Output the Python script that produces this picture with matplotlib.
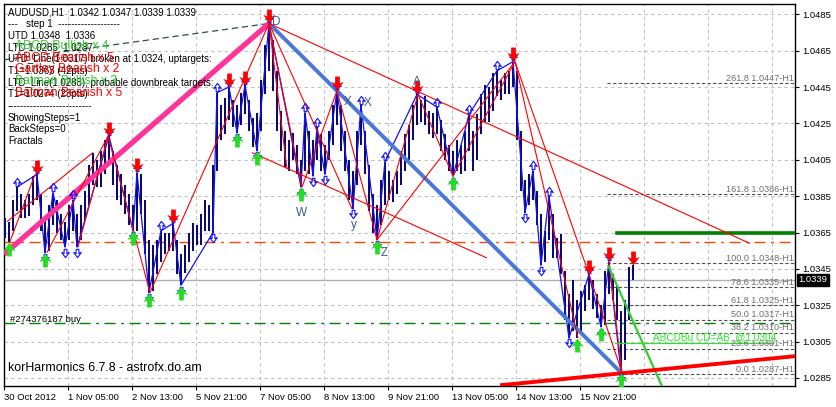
import matplotlib
matplotlib.use("Agg")
import matplotlib.pyplot as plt
from matplotlib.transforms import blended_transform_factory

plt.rcParams['font.family'] = ['Liberation Sans', 'DejaVu Sans']

highs = [1.0373, 1.0371, 1.0383, 1.0390, 1.0386, 1.0383, 1.0386, 1.0396, 1.0397, 1.0386,
         1.0372, 1.0380, 1.0387, 1.0383, 1.0375, 1.0371, 1.0380, 1.0383, 1.0375, 1.0380,
         1.0388, 1.0402, 1.0409, 1.0405, 1.0410, 1.0416, 1.0418, 1.0410, 1.0402, 1.0397,
         1.0391, 1.0386, 1.0380, 1.0398, 1.0397, 1.0383, 1.0361, 1.0358, 1.0361, 1.0366,
         1.0365, 1.0365, 1.0370, 1.0361, 1.0353, 1.0358, 1.0365, 1.0370, 1.0369, 1.0375,
         1.0383, 1.0380, 1.0402, 1.0442, 1.0435, 1.0439, 1.0445, 1.0438, 1.0435, 1.0442,
         1.0446, 1.0438, 1.0428, 1.0431, 1.0449, 1.0468, 1.0480, 1.0471, 1.0454, 1.0432,
         1.0421, 1.0416, 1.0420, 1.0413, 1.0405, 1.0431, 1.0421, 1.0416, 1.0423, 1.0419,
         1.0413, 1.0421, 1.0435, 1.0443, 1.0435, 1.0421, 1.0405, 1.0399, 1.0421, 1.0435,
         1.0421, 1.0402, 1.0386, 1.0380, 1.0394, 1.0404, 1.0399, 1.0394, 1.0399, 1.0410,
         1.0419, 1.0424, 1.0435, 1.0441, 1.0438, 1.0440, 1.0432, 1.0431, 1.0434, 1.0427,
         1.0419, 1.0413, 1.0410, 1.0416, 1.0413, 1.0421, 1.0430, 1.0421, 1.0430, 1.0441,
         1.0446, 1.0445, 1.0453, 1.0454, 1.0449, 1.0453, 1.0454, 1.0459, 1.0454, 1.0421,
         1.0394, 1.0397, 1.0399, 1.0388, 1.0375, 1.0366, 1.0385, 1.0375, 1.0362, 1.0364,
         1.0344, 1.0331, 1.0339, 1.0328, 1.0333, 1.0336, 1.0342, 1.0339, 1.0331, 1.0325,
         1.0344, 1.0349, 1.0342, 1.0336, 1.0322, 1.0328, 1.0346, 1.0347]
lows = [1.0362, 1.0360, 1.0366, 1.0377, 1.0373, 1.0373, 1.0374, 1.0380, 1.0383, 1.0366,
        1.0354, 1.0355, 1.0369, 1.0365, 1.0361, 1.0357, 1.0361, 1.0366, 1.0357, 1.0361,
        1.0372, 1.0380, 1.0391, 1.0390, 1.0390, 1.0397, 1.0402, 1.0391, 1.0383, 1.0380,
        1.0375, 1.0369, 1.0366, 1.0366, 1.0375, 1.0353, 1.0332, 1.0333, 1.0342, 1.0349,
        1.0353, 1.0355, 1.0355, 1.0342, 1.0336, 1.0343, 1.0349, 1.0355, 1.0358, 1.0358,
        1.0366, 1.0366, 1.0365, 1.0399, 1.0416, 1.0419, 1.0427, 1.0423, 1.0420, 1.0424,
        1.0430, 1.0421, 1.0412, 1.0410, 1.0421, 1.0441, 1.0454, 1.0443, 1.0421, 1.0410,
        1.0401, 1.0399, 1.0405, 1.0397, 1.0390, 1.0399, 1.0397, 1.0396, 1.0405, 1.0399,
        1.0397, 1.0405, 1.0413, 1.0424, 1.0410, 1.0399, 1.0383, 1.0378, 1.0391, 1.0413,
        1.0397, 1.0377, 1.0365, 1.0361, 1.0369, 1.0380, 1.0383, 1.0382, 1.0386, 1.0391,
        1.0399, 1.0405, 1.0416, 1.0424, 1.0426, 1.0424, 1.0419, 1.0417, 1.0419, 1.0410,
        1.0405, 1.0399, 1.0396, 1.0399, 1.0397, 1.0399, 1.0410, 1.0399, 1.0405, 1.0419,
        1.0426, 1.0426, 1.0432, 1.0440, 1.0438, 1.0441, 1.0441, 1.0445, 1.0416, 1.0388,
        1.0376, 1.0380, 1.0383, 1.0369, 1.0347, 1.0349, 1.0361, 1.0351, 1.0351, 1.0342,
        1.0317, 1.0307, 1.0311, 1.0307, 1.0311, 1.0322, 1.0328, 1.0323, 1.0318, 1.0313,
        1.0314, 1.0331, 1.0328, 1.0317, 1.0288, 1.0295, 1.0317, 1.0339]

price_ticks = [1.0285, 1.0305, 1.0325, 1.0345, 1.0365, 1.0385, 1.0405, 1.0425, 1.0445, 1.0465, 1.0485]
time_pos = [15.75, 31.75, 47.75, 63.75, 79.75, 95.75, 111.75, 127.75, 143.75]
time_labels = ["1 Nov 05:00", "2 Nov 13:00", "5 Nov 21:00", "7 Nov 05:00", "8 Nov 13:00",
               "9 Nov 21:00", "13 Nov 05:00", "14 Nov 13:00", "15 Nov 21:00"]
grid_x = time_pos + [159.75, 175.75, 191.75]

# big fractals (bar index)
up_fractals = [8, 26, 33, 42, 56, 60, 66, 83, 103, 127, 146, 151, 157]
down_fractals = [1, 10, 32, 36, 44, 58, 63, 74, 93, 112, 143, 149, 154]

# harmonic / trend lines: (bar, price) pairs
pink_line = [(-0.25, 1.0353), (66, 1.0480)]
slate_line = [(-0.25, 1.0460), (66, 1.0480)]
blue_line = [(66, 1.0480), (154, 1.0288)]
red_lines = [
    [(66, 1.0480), (186.25, 1.0359)],
    [(61.75, 1.0409), (120.5, 1.0351)],
    [(36.25, 1.0332), (66, 1.0480)],
    [(1.25, 1.0360), (7.5, 1.0397)],
    [(10.5, 1.0354), (25.75, 1.0418)],
    [(18.25, 1.0357), (25.75, 1.0418)],
    [(0.5, 1.0371), (22, 1.0409)],
    [(25.75, 1.0418), (36.25, 1.0332)],
    [(66, 1.0480), (70.5, 1.0400)],
    [(66, 1.0480), (74.25, 1.0390)],
    [(66, 1.0480), (86.75, 1.0378)],
    [(74.25, 1.0390), (83, 1.0443)],
    [(83, 1.0443), (93, 1.0361)],
    [(93, 1.0361), (103.25, 1.0441)],
    [(93, 1.0361), (127.5, 1.0459)],
    [(103.25, 1.0441), (112, 1.0396)],
    [(112, 1.0396), (127.5, 1.0459)],
    [(127.5, 1.0459), (143.25, 1.0307)],
    [(127.5, 1.0459), (146, 1.0342)],
    [(146, 1.0342), (154.25, 1.0288)],
    [(151, 1.0349), (154.25, 1.0288)],
]
abcd_line = [(150.75, 1.0347), (164.75, 1.0278)]
ltd_line = [(123.75, 1.0281), (197.5, 1.0297)]

fib_pct = [0.0, 23.6, 38.2, 50.0, 61.8, 78.6, 100.0, 161.8, 261.8]
fib_price = [1.0287, 1.0301, 1.0310, 1.0317, 1.0325, 1.0335, 1.0348, 1.0386, 1.0447]

letters = [("D", 67.75, 1.0481), ("A", 103, 1.0448), ("X", 85.75, 1.0437), ("X", 90.75, 1.0436),
           ("W", 74.25, 1.0376), ("y", 87.25, 1.0369), ("Z", 94.75, 1.0354)]

info_lines = ["AUDUSD,H1  1.0342 1.0347 1.0339 1.0339", "---   step 1  -------------------",
              "UTD 1.0348  1.0336", "LTD 1.0285  1.0287",
              "UTD_Line(1.0317) broken at 1.0324, uptargets:", "T1=1.0363 (42pts)",
              "LTD_Line(1.0288), probable downbreak targets:", "T1=1.0274 (23pts)",
              "--------------------------", "ShowingSteps=1", "BackSteps=0", "Fractals"]
pattern_lines = [("ABCD Bullish x 4", "#33cc33"), ("ABCD Bearish x 5", "red"),
                 ("Gartley Bearish x 2", "red"), ("Batman Bullish x 3", "#33cc33"),
                 ("Batman Bearish x 5", "red")]

W, H = 837, 407
fig = plt.figure(figsize=(W / 100, H / 100), dpi=100)
ax = fig.add_axes([4 / W, 21 / H, 791 / W, 382 / H])
ax.set_xlim(-0.25, 197.5)
ax.set_ylim(1.02806, 1.04907)

for gx in grid_x:
    ax.axvline(gx, color="#c0c0c0", lw=0.8, ls=(0, (3, 3)), zorder=0)
for gy in price_ticks:
    ax.axhline(gy, color="#c0c0c0", lw=0.8, ls=(0, (3, 3)), zorder=0)

xs = list(range(len(highs)))
ax.vlines(xs, lows, highs, color="#0a0a70", lw=1.45, zorder=3)

# small fractals from the bars
fh, fl = [], []
for i in range(2, len(highs) - 2):
    if highs[i] == max(highs[i - 2:i + 3]) and highs[i] > max(highs[i - 2:i]):
        fh.append(i)
    if lows[i] == min(lows[i - 2:i + 3]) and lows[i] < min(lows[i - 2:i]):
        fl.append(i)
zz = sorted([(i, highs[i]) for i in fh] + [(i, lows[i]) for i in fl])
ax.plot([p[0] for p in zz], [p[1] for p in zz], color="#1010ff", lw=0.9, zorder=4)

arrow_dn = [(-0.17, 0.5), (0.17, 0.5), (0.17, 0.0), (0.45, 0.12), (0.0, -0.5),
            (-0.45, 0.12), (-0.17, 0.0), (-0.17, 0.5)]
arrow_up = [(x, -y) for x, y in arrow_dn]
ax.plot(fh, [highs[i] + 0.0003 for i in fh], ls="none", marker=arrow_up, ms=6,
        mfc="none", mec="#1010ff", mew=0.8, zorder=6)
ax.plot(fl, [lows[i] - 0.0003 for i in fl], ls="none", marker=arrow_dn, ms=6,
        mfc="none", mec="#1010ff", mew=0.8, zorder=6)

# horizontal lines
ax.axhline(1.0360, color="#ff4500", lw=1, ls=(0, (8, 4, 2, 4)), zorder=2)
ax.axhline(1.0315, color="#008000", lw=1, ls=(0, (8, 4, 2, 4)), zorder=2)
ax.axhline(1.0339, color="#b0b0b0", lw=1, zorder=1)
ax.plot([153, 197.5], [1.0365, 1.0365], color="#008000", lw=2.6, zorder=5)
for pct, pr in zip(fib_pct, fib_price):
    ax.plot([150.5, 197.5], [pr, pr], color="#505050", lw=0.8, ls=(0, (3, 2)), zorder=2)
    ax.text(197.2, pr + 0.00003, f"{pct:.1f} {pr:.4f}-H1", ha="right", va="bottom",
            fontsize=6.6, color="#707070", zorder=7)

def seg(line, **kw):
    ax.plot([p[0] for p in line], [p[1] for p in line], solid_capstyle="butt", **kw)

seg(slate_line, color="#2f4f4f", lw=0.9, ls=(0, (5, 3)), zorder=4)
seg(pink_line, color="#ff3399", lw=3.8, zorder=5)
seg(blue_line, color="#4a78d8", lw=2.8, zorder=5)
for ln in red_lines:
    seg(ln, color="red", lw=0.8, zorder=5)
seg(abcd_line, color="#32cd32", lw=1.6, zorder=5)
seg(ltd_line, color="red", lw=2.8, zorder=5)
ax.plot([152.5, 192], [1.0304, 1.0304], color="#33dd33", lw=0.9, zorder=5)
ax.text(162, 1.0305, "ABCDBu CD=AB  @1.0304", color="#22ee22", fontsize=7.2,
        va="bottom", ha="left", zorder=7)

ax.plot(up_fractals, [highs[i] + 0.0004 for i in up_fractals], ls="none", marker=arrow_dn,
        ms=10, color="red", mew=0, zorder=8)
ax.plot(down_fractals, [lows[i] - 0.0004 for i in down_fractals], ls="none", marker=arrow_up,
        ms=10, color="#22dd22", mew=0, zorder=8)

for t, x, y in letters:
    ax.text(x, y, t, color="#3c5a8c", fontsize=8.5, ha="center", va="center", zorder=9)

# axes styling
ax.yaxis.tick_right()
ax.set_yticks(price_ticks)
ax.set_yticklabels([f"{p:.4f}" for p in price_ticks], fontsize=6.8)
ax.set_xticks([-0.25] + time_pos)
ax.set_xticklabels(["30 Oct 2012"] + time_labels, fontsize=6.8, ha="left")
ax.tick_params(axis="both", length=3, width=0.8, color="black", pad=2)
for s in ax.spines.values():
    s.set_color("black")
    s.set_linewidth(1)

# price label
tr = blended_transform_factory(ax.transAxes, ax.transData)
ax.text(1.004, 1.0339, "1.0339", transform=tr, fontsize=6.8, color="white", va="center",
        ha="left", bbox=dict(boxstyle="square,pad=0.15", fc="black", ec="black"), zorder=10,
        clip_on=False)

# info texts
for k, t in enumerate(info_lines):
    fig.text(8 / W, 1 - (12.5 + 11.7 * k) / H, t, fontsize=7, va="center", ha="left", zorder=10)
for k, (t, c) in enumerate(pattern_lines):
    fig.text(15 / W, 1 - (46 + 11.7 * k) / H, t, fontsize=8.8, color=c, va="center", ha="left",
             zorder=10)
fig.text(10 / W, 1 - 320 / H, "#274376187 buy", fontsize=6.8, va="center", ha="left")
fig.text(8 / W, 1 - 368 / H, "korHarmonics 6.7.8 - astrofx.do.am", fontsize=8.9, va="center",
         ha="left")

fig.savefig("out.png", dpi=100)
